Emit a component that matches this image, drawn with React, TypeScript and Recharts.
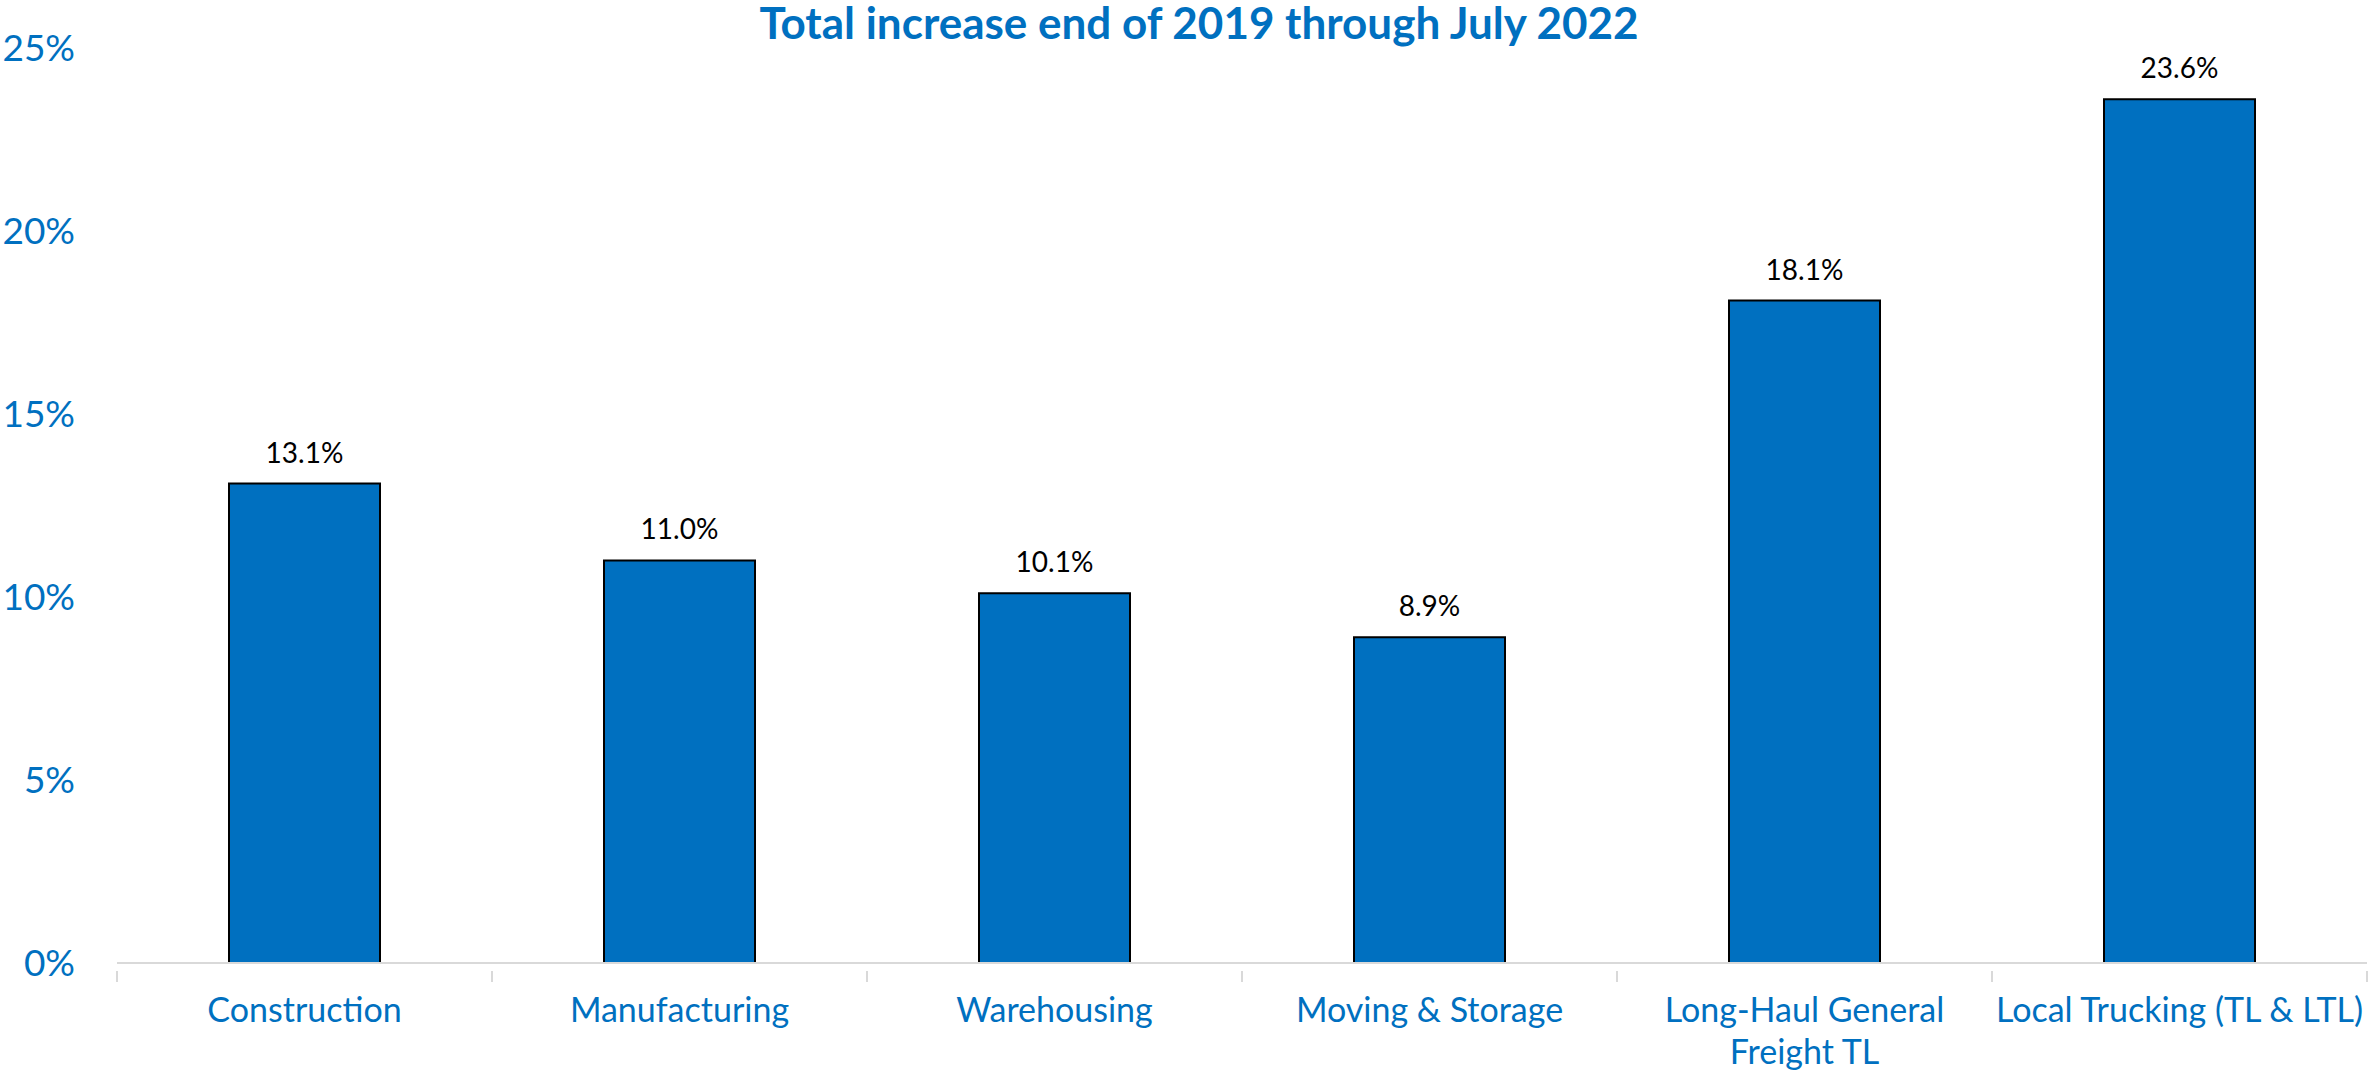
import React from "react";
import { BarChart, Bar, XAxis, YAxis, LabelList } from "recharts";

const categories = [
  "Construction",
  "Manufacturing",
  "Warehousing",
  "Moving & Storage",
  "Long-Haul General\nFreight TL",
  "Local Trucking (TL & LTL)",
];
const increase = [13.1, 11.0, 10.1, 8.9, 18.1, 23.6];
const yTicks = [0, 5, 10, 15, 20, 25];

const BLUE = "#0070C0";
const FONT = "Lato, 'Noto Sans', sans-serif";

const W = 2369;
const H = 1073;
const margin = { top: 48, right: 2, bottom: 0, left: 0 };
const yAxisWidth = 117;
const band = (W - margin.left - margin.right - yAxisWidth) / categories.length;

const data = categories.map((name, i) => ({ name, value: increase[i] }));

function CategoryTick(props: any) {
  const { x, y, payload, index } = props;
  const lines = String(payload.value).split("\n");
  return (
    <g>
      <line x1={x - band / 2} x2={x - band / 2} y1={y} y2={y + 11} stroke="#D9D9D9" strokeWidth={2} />
      {index === categories.length - 1 && (
        <line x1={x + band / 2} x2={x + band / 2} y1={y} y2={y + 11} stroke="#D9D9D9" strokeWidth={2} />
      )}
      <text x={x} y={y + 48} textAnchor="middle" fill={BLUE} fontSize={34} fontFamily={FONT}>
        {lines.map((l, i) => (
          <tspan key={i} x={x} dy={i === 0 ? 3 : 42}>
            {l}
          </tspan>
        ))}
      </text>
    </g>
  );
}

export default function App() {
  return (
    <div style={{ position: "absolute", left: 0, top: 0, width: W, height: H, background: "#fff" }}>
      <div
        style={{
          position: "absolute",
          left: 0,
          top: 0,
          width: W,
          paddingLeft: 29,
          boxSizing: "border-box",
          textAlign: "center",
          lineHeight: "44px",
          fontFamily: FONT,
          fontWeight: 700,
          fontSize: 44,
          color: BLUE,
        }}
      >
        Total increase end of 2019 through July 2022
      </div>
      <BarChart width={W} height={H} data={data} margin={margin}>
        <XAxis
          dataKey="name"
          interval={0}
          tickLine={false}
          axisLine={{ stroke: "#D9D9D9", strokeWidth: 2 }}
          tick={<CategoryTick />}
          height={110}
        />
        <YAxis
          width={yAxisWidth}
          domain={[0, 25]}
          ticks={yTicks}
          axisLine={false}
          tickLine={false}
          tickSize={0}
          tickMargin={42}
          tickFormatter={(v: number) => `${v}%`}
          tick={{ fill: BLUE, fontSize: 37, fontFamily: FONT }}
        />
        <Bar dataKey="value" fill={BLUE} stroke="#000" strokeWidth={2} barSize={151} isAnimationActive={false}>
          <LabelList
            dataKey="value"
            position="top"
            offset={21}
            fill="#000"
            fontSize={28}
            fontFamily={FONT}
            formatter={(v: any) => `${Number(v).toFixed(1)}%`}
          />
        </Bar>
      </BarChart>
    </div>
  );
}
